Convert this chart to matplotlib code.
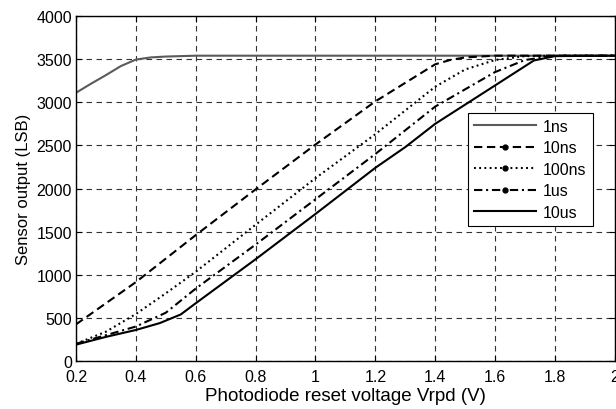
import numpy as np
import matplotlib
matplotlib.use("Agg")
import matplotlib.pyplot as plt
from matplotlib.lines import Line2D

plt.rcParams['font.family'] = ['Liberation Sans', 'DejaVu Sans']

# reset voltage (V) and sensor output (LSB) for each integration time
x_1ns = [0.2, 0.25, 0.3, 0.35, 0.4, 0.45, 0.5, 0.6, 0.8, 1.0, 1.2, 1.4, 1.6, 1.8, 2.0]
y_1ns = [3110, 3215, 3315, 3420, 3495, 3520, 3530, 3540, 3540, 3540, 3540, 3540, 3540, 3540, 3540]

x_10ns = [0.2, 0.3, 0.4, 0.6, 0.8, 1.0, 1.2, 1.4, 1.45, 1.5, 1.6, 1.8, 2.0]
y_10ns = [425, 670, 915, 1460, 1990, 2510, 3010, 3440, 3490, 3520, 3540, 3540, 3540]

x_100ns = [0.2, 0.3, 0.4, 0.5, 0.6, 0.8, 1.0, 1.2, 1.4, 1.5, 1.6, 1.7, 1.8, 2.0]
y_100ns = [200, 340, 545, 785, 1035, 1580, 2120, 2630, 3180, 3380, 3490, 3535, 3540, 3540]

x_1us = [0.2, 0.3, 0.4, 0.5, 0.6, 0.8, 1.0, 1.2, 1.4, 1.55, 1.6, 1.7, 1.8, 2.0]
y_1us = [200, 300, 400, 560, 840, 1350, 1875, 2400, 2950, 3250, 3350, 3490, 3540, 3540]

x_10us = [0.2, 0.3, 0.4, 0.48, 0.55, 0.6, 0.7, 0.8, 1.0, 1.2, 1.3, 1.4, 1.6, 1.73, 1.8, 2.0]
y_10us = [190, 280, 360, 440, 540, 670, 925, 1180, 1705, 2240, 2480, 2750, 3195, 3485, 3535, 3540]

labels = ['1ns', '10ns', '100ns', '1us', '10us']

fig = plt.figure(figsize=(6.16, 4.10), dpi=100)
ax = fig.add_axes([0.1234, 0.117, 0.8746, 0.8415])

ax.plot(x_1ns, y_1ns, color='#5a5a5a', lw=1.5, ls='-')
ax.plot(x_10ns, y_10ns, color='k', lw=1.5, ls=(0, (4, 2.2)))
ax.plot(x_100ns, y_100ns, color='k', lw=1.5, ls=(0, (0.9, 1.6)))
ax.plot(x_1us, y_1us, color='k', lw=1.5, ls=(0, (4, 1.8, 1, 1.8)))
ax.plot(x_10us, y_10us, color='k', lw=1.5, ls='-')

ax.set_xlim(0.2, 2.0)
ax.set_ylim(0, 4000)
ax.set_xticks(np.arange(0.2, 2.01, 0.2))
ax.set_xticklabels(['0.2', '0.4', '0.6', '0.8', '1', '1.2', '1.4', '1.6', '1.8', '2'])
ax.set_yticks(np.arange(0, 4001, 500))
ax.grid(True, color='#333333', ls=(0, (5, 4)), lw=0.8)
ax.tick_params(direction='in', top=True, right=True, labelsize=11.5, length=4)
ax.tick_params(axis='x', pad=6)
ax.tick_params(axis='y', pad=3)
for s in ax.spines.values():
    s.set_linewidth(1.0)

ax.set_xlabel('Photodiode reset voltage Vrpd (V)', fontsize=13.5, labelpad=2)
ax.set_ylabel('Sensor output (LSB)', fontsize=12, labelpad=4)

# legend handles, markers only shown in legend
styles = [('#5a5a5a', '-', None), ('k', (0, (4, 2.2)), 'o'), ('k', (0, (0.9, 1.6)), 'o'),
          ('k', (0, (4, 1.8, 1, 1.8)), 'o'), ('k', '-', None)]
handles = [Line2D([0], [0], color=c, ls=l, lw=1.5, marker=m, markersize=3.5)
           for c, l, m in styles]
leg = ax.legend(handles, labels, loc='upper left', bbox_to_anchor=(0.727, 0.72),
                fontsize=11.5, frameon=True, fancybox=False, framealpha=1,
                edgecolor='k', handlelength=3.9, handletextpad=0.4,
                labelspacing=0.4, borderpad=0.4, borderaxespad=0)
leg.get_frame().set_linewidth(0.8)

fig.savefig('out.png', dpi=100)
